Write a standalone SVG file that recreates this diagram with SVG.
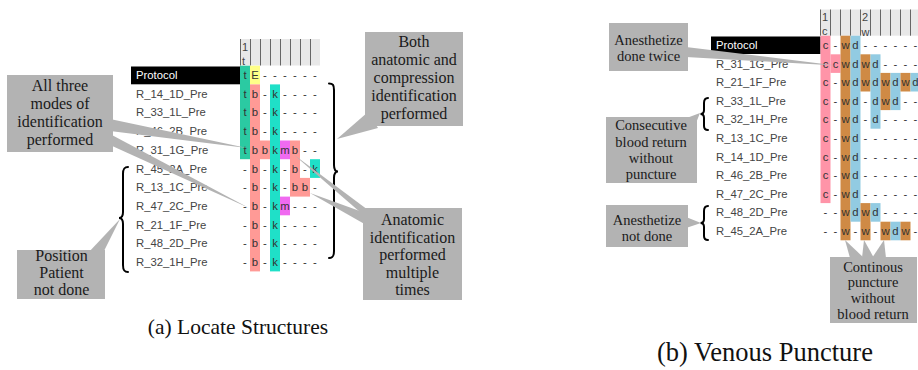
<svg xmlns="http://www.w3.org/2000/svg" width="918" height="370" viewBox="0 0 918 370">
<style>
.lbl{font-family:"Liberation Sans",Arial,sans-serif;font-size:11.3px;fill:#444}
.pl{font-family:"Liberation Sans",Arial,sans-serif;font-size:11.3px;fill:#fff}
.cell{font-family:"Liberation Sans",Arial,sans-serif;font-size:11.3px;fill:#333;text-anchor:middle}
.hd{font-family:"Liberation Sans",Arial,sans-serif;font-size:11px;fill:#444}
.note{font-family:"Liberation Serif","Times New Roman",serif;font-size:16px;fill:#1a1a1a;text-anchor:middle}
.note2{font-family:"Liberation Serif","Times New Roman",serif;font-size:14.5px;fill:#1a1a1a;text-anchor:middle}
.box{fill:#b3b3b3}
.wedge{fill:#b3b3b3}
.brace{fill:none;stroke:#000;stroke-width:2;stroke-linecap:round}
.cap{font-family:"Liberation Serif","Times New Roman",serif;fill:#111;text-anchor:middle}
.hdr{fill:#e8e8e8}
.vl{stroke:#666;stroke-width:1}
.teal{fill:#2bcaa2}.kt{fill:#1fe0c8}.sal{fill:#ff9a96}.mag{fill:#f06af0}.yel{fill:#ffff88}
.pink{fill:#ff94a8}.brn{fill:#cf8a45}.blu{fill:#92cbe2}
</style>

<g id="table-a">
<rect class="hdr" x="240" y="39" width="80" height="26.5"/>
<g class="vl">
<line x1="240.5" y1="39" x2="240.5" y2="65.5"/><line x1="250.5" y1="39" x2="250.5" y2="65.5"/><line x1="260.5" y1="39" x2="260.5" y2="65.5"/><line x1="270.5" y1="39" x2="270.5" y2="65.5"/><line x1="280.5" y1="39" x2="280.5" y2="65.5"/><line x1="290.5" y1="39" x2="290.5" y2="65.5"/><line x1="300.5" y1="39" x2="300.5" y2="65.5"/><line x1="310.5" y1="39" x2="310.5" y2="65.5"/>
</g>
<text class="hd" x="242" y="51">1</text>
<text class="hd" x="242" y="65">t</text>
<rect x="131" y="66.5" width="109" height="17.8" fill="#000"/>
<rect class="teal" x="240" y="65.7" width="10" height="93.5"/>
<rect class="yel" x="250" y="65.7" width="10" height="18.7"/>
<rect class="sal" x="250" y="84.4" width="10" height="187"/>
<rect class="sal" x="260" y="140.5" width="10" height="18.7"/>
<rect class="kt" x="270" y="84.4" width="10" height="187"/>
<rect class="mag" x="280" y="140.5" width="10" height="18.7"/>
<rect class="mag" x="280" y="196.6" width="10" height="18.7"/>
<rect class="sal" x="290" y="140.5" width="10" height="56.1"/>
<rect class="sal" x="300" y="177.9" width="10" height="18.7"/>
<rect class="kt" x="310" y="159.2" width="10" height="18.7"/>
<text class="pl" x="136" y="79">Protocol</text>
<text class="lbl" x="136" y="97.7">R_14_1D_Pre</text>
<text class="lbl" x="136" y="116.4">R_33_1L_Pre</text>
<text class="lbl" x="136" y="135.1">R_46_2B_Pre</text>
<text class="lbl" x="136" y="153.8">R_31_1G_Pre</text>
<text class="lbl" x="136" y="172.5">R_45_2A_Pre</text>
<text class="lbl" x="136" y="191.2">R_13_1C_Pre</text>
<text class="lbl" x="136" y="209.9">R_47_2C_Pre</text>
<text class="lbl" x="136" y="228.6">R_21_1F_Pre</text>
<text class="lbl" x="136" y="247.3">R_48_2D_Pre</text>
<text class="lbl" x="136" y="266">R_32_1H_Pre</text>
<text class="cell" x="245 255 265 275 285 295 305 315" y="79">tE------</text>
<text class="cell" x="245 255 265 275 285 295 305 315" y="97.7">tb-k----</text>
<text class="cell" x="245 255 265 275 285 295 305 315" y="116.4">tb-k----</text>
<text class="cell" x="245 255 265 275 285 295 305 315" y="135.1">tb-k----</text>
<text class="cell" x="245 255 265 275 285 295 305 315" y="153.8">tbbkmb--</text>
<text class="cell" x="245 255 265 275 285 295 305 315" y="172.5">-b-k-b-k</text>
<text class="cell" x="245 255 265 275 285 295 305 315" y="191.2">-b-k-bb-</text>
<text class="cell" x="245 255 265 275 285 295 305 315" y="209.9">-b-km---</text>
<text class="cell" x="245 255 265 275 285 295 305 315" y="228.6">-b-k----</text>
<text class="cell" x="245 255 265 275 285 295 305 315" y="247.3">-b-k----</text>
<text class="cell" x="245 255 265 275 285 295 305 315" y="266">-b-k----</text>
</g>

<g id="table-b">
<rect class="hdr" x="820.5" y="9.5" width="97.5" height="26.2"/>
<g class="vl">
<line x1="820.5" y1="9.5" x2="820.5" y2="35.7"/><line x1="830.5" y1="9.5" x2="830.5" y2="35.7"/><line x1="840.5" y1="9.5" x2="840.5" y2="35.7"/><line x1="850.5" y1="9.5" x2="850.5" y2="35.7"/><line x1="860.5" y1="9.5" x2="860.5" y2="35.7"/><line x1="870.5" y1="9.5" x2="870.5" y2="35.7"/><line x1="880.5" y1="9.5" x2="880.5" y2="35.7"/><line x1="890.5" y1="9.5" x2="890.5" y2="35.7"/><line x1="900.5" y1="9.5" x2="900.5" y2="35.7"/><line x1="910.5" y1="9.5" x2="910.5" y2="35.7"/>
</g>
<text class="hd" x="822" y="21">1</text>
<text class="hd" x="822" y="35">c</text>
<text class="hd" x="862" y="21">2</text>
<text class="hd" x="861.5" y="35.5">w</text>
<rect x="711" y="36.5" width="109.5" height="17.5" fill="#000"/>
<rect class="pink" x="820.5" y="35.7" width="10" height="167.4"/>
<rect class="pink" x="830.5" y="54.3" width="10" height="18.6"/>
<rect class="brn" x="840.5" y="35.7" width="10" height="204.6"/>
<rect class="blu" x="850.5" y="35.7" width="10" height="186"/>
<rect class="brn" x="860.5" y="54.3" width="10" height="37.2"/>
<rect class="brn" x="860.5" y="203.1" width="10" height="37.2"/>
<rect class="blu" x="870.5" y="54.3" width="10" height="74.4"/>
<rect class="blu" x="870.5" y="203.1" width="10" height="18.6"/>
<rect class="brn" x="880.5" y="72.9" width="10" height="37.2"/>
<rect class="brn" x="880.5" y="221.7" width="10" height="18.6"/>
<rect class="blu" x="890.5" y="72.9" width="10" height="37.2"/>
<rect class="blu" x="890.5" y="221.7" width="10" height="18.6"/>
<rect class="brn" x="900.5" y="72.9" width="10" height="18.6"/>
<rect class="brn" x="900.5" y="221.7" width="10" height="18.6"/>
<rect class="blu" x="910.5" y="72.9" width="10" height="18.6"/>
<text class="pl" x="716" y="49">Protocol</text>
<text class="lbl" x="716" y="67.6">R_31_1G_Pre</text>
<text class="lbl" x="716" y="86.2">R_21_1F_Pre</text>
<text class="lbl" x="716" y="104.8">R_33_1L_Pre</text>
<text class="lbl" x="716" y="123.4">R_32_1H_Pre</text>
<text class="lbl" x="716" y="142">R_13_1C_Pre</text>
<text class="lbl" x="716" y="160.6">R_14_1D_Pre</text>
<text class="lbl" x="716" y="179.2">R_46_2B_Pre</text>
<text class="lbl" x="716" y="197.8">R_47_2C_Pre</text>
<text class="lbl" x="716" y="216.4">R_48_2D_Pre</text>
<text class="lbl" x="716" y="235">R_45_2A_Pre</text>
<text class="cell" x="825.5 835.5 845.5 855.5 865.5 875.5 885.5 895.5 905.5 915.5" y="49">c-wd------</text>
<text class="cell" x="825.5 835.5 845.5 855.5 865.5 875.5 885.5 895.5 905.5 915.5" y="67.6">ccwdwd----</text>
<text class="cell" x="825.5 835.5 845.5 855.5 865.5 875.5 885.5 895.5 905.5 915.5" y="86.2">c-wdwdwdwd</text>
<text class="cell" x="825.5 835.5 845.5 855.5 865.5 875.5 885.5 895.5 905.5 915.5" y="104.8">c-wd-dwd--</text>
<text class="cell" x="825.5 835.5 845.5 855.5 865.5 875.5 885.5 895.5 905.5 915.5" y="123.4">c-wd-d----</text>
<text class="cell" x="825.5 835.5 845.5 855.5 865.5 875.5 885.5 895.5 905.5 915.5" y="142">c-wd------</text>
<text class="cell" x="825.5 835.5 845.5 855.5 865.5 875.5 885.5 895.5 905.5 915.5" y="160.6">c-wd------</text>
<text class="cell" x="825.5 835.5 845.5 855.5 865.5 875.5 885.5 895.5 905.5 915.5" y="179.2">c-wd------</text>
<text class="cell" x="825.5 835.5 845.5 855.5 865.5 875.5 885.5 895.5 905.5 915.5" y="197.8">c-wd------</text>
<text class="cell" x="825.5 835.5 845.5 855.5 865.5 875.5 885.5 895.5 905.5 915.5" y="216.4">--wdwd----</text>
<text class="cell" x="825.5 835.5 845.5 855.5 865.5 875.5 885.5 895.5 905.5 915.5" y="235">--w-w-wdw-</text>
</g>

<g id="connectors">
<path class="brace" d="M329,83.5 C333,83.5 334,85 334,90 L334,165 C334,169.5 335,171.5 338,171.5 C335,171.5 334,173.5 334,178 L334,251 C334,256 333,258 329,258"/>
<path class="brace" d="M128,167 C124,167 123,169 123,174 L123,212 C123,216 122,218 119,218 C122,218 123,220 123,224 L123,265 C123,270 124,272 128,272"/>
<path class="brace" d="M708,98 C705,98 704,100 704,103 L704,110 C704,112.5 703,114 700.5,114 C703,114 704,115.5 704,118 L704,126 C704,129 705,130 708,130"/>
<path class="brace" d="M708,206 C705,206 704,208 704,211 L704,219 C704,221.5 703,223 700.5,223 C703,223 704,224.5 704,227 L704,236 C704,239 705,240 708,240"/>
<polygon class="wedge" points="110,119 110,131 247,148"/>
<polygon class="wedge" points="110,134 110,145 249,208"/>
<polygon class="wedge" points="88,253 103,253 120,219"/>
<polygon class="wedge" points="368,112 378,128 337,139"/>
<polygon class="wedge" points="368,210 368,219 293,154"/>
<polygon class="wedge" points="368,214 368,226 310,193"/>
<polygon class="wedge" points="686,47 686,57 836,65.5"/>
<polygon class="wedge" points="684,119 694,128 700,113"/>
<polygon class="wedge" points="686,217 686,228 701,223"/>
<polygon class="wedge" points="850,258 864,258 845,240"/>
<polygon class="wedge" points="862,258 874,258 864,240"/>
<polygon class="wedge" points="872,258 886,258 884,240"/>
</g>

<g id="note-all-three">
<rect class="box" x="7" y="75" width="106" height="77"/>
<text class="note" x="60" y="91">All three</text>
<text class="note" x="60" y="109">modes of</text>
<text class="note" x="60" y="127">identification</text>
<text class="note" x="60" y="145">performed</text>
</g>
<g id="note-position">
<rect class="box" x="17" y="250" width="88" height="49"/>
<text class="note" x="61.5" y="261">Position</text>
<text class="note" x="61.5" y="278">Patient</text>
<text class="note" x="61.5" y="295">not done</text>
</g>
<g id="note-both">
<rect class="box" x="365" y="32" width="98" height="94"/>
<text class="note" x="414" y="47">Both</text>
<text class="note" x="414" y="65">anatomic and</text>
<text class="note" x="414" y="83">compression</text>
<text class="note" x="414" y="101">identification</text>
<text class="note" x="414" y="119">performed</text>
</g>
<g id="note-anatomic">
<rect class="box" x="363" y="208" width="99" height="92"/>
<text class="note" x="412.5" y="225">Anatomic</text>
<text class="note" x="412.5" y="243">identification</text>
<text class="note" x="412.5" y="260">performed</text>
<text class="note" x="412.5" y="278">multiple</text>
<text class="note" x="412.5" y="295">times</text>
</g>
<g id="note-twice">
<rect class="box" x="609" y="23" width="79" height="48"/>
<text class="note2" x="648.5" y="45">Anesthetize</text>
<text class="note2" x="648.5" y="61">done twice</text>
</g>
<g id="note-consecutive">
<rect class="box" x="606" y="117" width="91" height="66"/>
<text class="note2" x="651" y="130">Consecutive</text>
<text class="note2" x="651" y="147">blood return</text>
<text class="note2" x="651" y="163">without</text>
<text class="note2" x="651" y="179">puncture</text>
</g>
<g id="note-not-done">
<rect class="box" x="606" y="205" width="82" height="42"/>
<text class="note2" x="647" y="225">Anesthetize</text>
<text class="note2" x="647" y="241">not done</text>
</g>
<g id="note-continous">
<rect class="box" x="830" y="257" width="87" height="66"/>
<text class="note2" x="873" y="272">Continous</text>
<text class="note2" x="873" y="287">puncture</text>
<text class="note2" x="873" y="303">without</text>
<text class="note2" x="873" y="319">blood return</text>
</g>

<text class="cap" x="238" y="334" font-size="21.5">(a) Locate Structures</text>
<text class="cap" x="765" y="361" font-size="26.5">(b) Venous Puncture</text>
</svg>
